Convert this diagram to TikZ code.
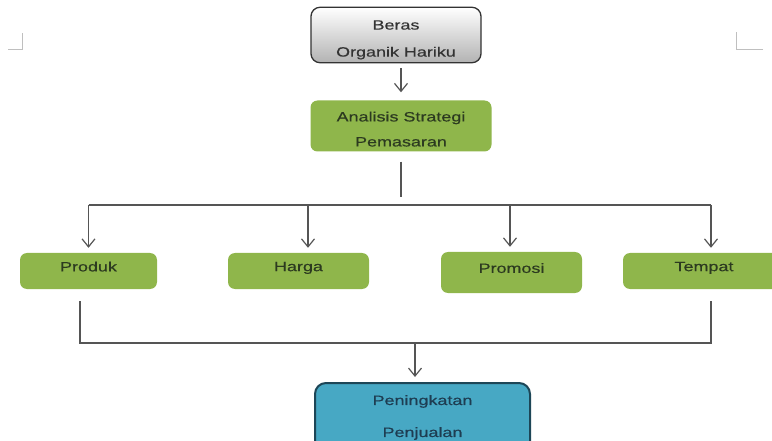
\documentclass[tikz,border=0pt]{standalone}
\usepackage{fontspec}
\setmainfont{Liberation Sans}[FakeStretch=1.33,FakeBold=0.4]
\usetikzlibrary{arrows.meta}
\definecolor{mixGreen}{HTML}{8FB64B}
\definecolor{salesBlue}{HTML}{47A8C4}
\definecolor{salesEdge}{HTML}{1D4657}
\definecolor{connGray}{HTML}{555555}
\definecolor{inkGreen}{HTML}{2C3A20}
\definecolor{inkBlue}{HTML}{1E3D52}
\newcommand{\rowsep}[1]{\fontsize{13.5}{#1}\selectfont}

\begin{document}
\begin{tikzpicture}[x=1pt,y=-1pt,>={Straight Barb[length=8pt,width=13pt]},
	conn/.style={draw=connGray,line width=1.2pt},
	startbox/.style={draw=black!80,line width=1.3pt,rounded corners=9pt,top color=white,bottom color=black!30,
		minimum width=170pt,minimum height=54pt,align=center,text=black!80,font=\rowsep{27}},
	mixbox/.style={fill=mixGreen,rounded corners=7pt,minimum height=36pt,text=inkGreen,font=\rowsep{16}},
	salesbox/.style={draw=salesEdge,line width=2pt,fill=salesBlue,rounded corners=11pt,
		minimum width=215pt,minimum height=69pt,align=center,text=inkBlue,font=\rowsep{32}}]
	\useasboundingbox (0,0) rectangle (772,441);
	\clip (0,0) rectangle (772,441);
	% corner marks of the page
	\draw[black!25,line width=0.8pt] (8,49) -| (22,33);
	\draw[black!25,line width=0.8pt] (763,49) -| (736,32);
	\node[startbox,text height=46pt] (beras) at (396,35) {Beras\\Organik Hariku};
	\node[mixbox,minimum width=181pt,minimum height=51pt,align=center,font=\rowsep{25},text height=41pt] (analisis) at (401,126) {Analisis Strategi\\Pemasaran};
	\node[mixbox,minimum width=137pt] (produk) at (88.5,271) {\raisebox{9pt}{Produk}};
	\node[mixbox,minimum width=141pt] (harga) at (298.5,271) {\raisebox{9pt}{Harga}};
	\node[mixbox,minimum width=141pt,minimum height=41pt] (promosi) at (511.5,272.5) {\raisebox{9pt}{Promosi}};
	\node[mixbox,minimum width=162pt] (tempat) at (704,271) {\raisebox{9pt}{Tempat}};
	\node[salesbox] (naik) at (422.5,417.5) {Peningkatan\\Penjualan};
	\coordinate (split) at (401,197);
	\coordinate (bar) at (0,205);
	\coordinate (join) at (415,343);
	\draw[conn,->,shorten <=5pt,shorten >=8pt] (beras.south -| analisis) -- (analisis.north);
	\draw[conn,shorten <=10pt] (analisis.south) -- (split);
	\draw[conn] (produk.north |- bar) -- ([xshift=7pt]tempat.north |- bar);
	\foreach \n/\dx in {produk/0,harga/9.5,promosi/-1.5,tempat/7}
		\draw[conn,->,shorten >=5pt] ([xshift=\dx pt]\n.north |- bar) -- ([xshift=\dx pt]\n.north);
	\draw[conn,shorten <=12pt,shorten >=12pt] ([xshift=-8.5pt]produk.south) |- (join) -| ([xshift=7pt]tempat.south);
	\draw[conn,->,shorten >=5pt] (join) -- (join |- naik.north);
\end{tikzpicture}
\end{document}
